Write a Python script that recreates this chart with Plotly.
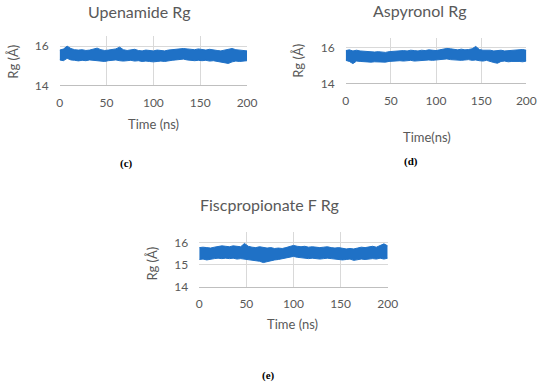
import plotly.graph_objects as go

W, H = 550, 391

time_ns = list(range(0, 201, 4))

upenamide_upper = [15.80, 15.85, 16.00, 15.88, 15.82, 15.80, 15.82, 15.78, 15.80, 15.84,
                   15.90, 15.82, 15.78, 15.80, 15.82, 15.86, 15.95, 15.82, 15.78, 15.80,
                   15.84, 15.78, 15.76, 15.80, 15.78, 15.76, 15.80, 15.78, 15.76, 15.80,
                   15.82, 15.84, 15.86, 15.88, 15.86, 15.84, 15.82, 15.86, 15.82, 15.80,
                   15.84, 15.80, 15.78, 15.76, 15.80, 15.84, 15.88, 15.82, 15.80, 15.78, 15.76]
upenamide_lower = [15.30, 15.26, 15.38, 15.30, 15.28, 15.25, 15.28, 15.26, 15.30, 15.28,
                   15.26, 15.24, 15.22, 15.26, 15.28, 15.30, 15.26, 15.24, 15.26, 15.28,
                   15.24, 15.26, 15.22, 15.24, 15.22, 15.20, 15.22, 15.24, 15.22, 15.26,
                   15.28, 15.30, 15.32, 15.34, 15.30, 15.28, 15.26, 15.28, 15.26, 15.28,
                   15.24, 15.26, 15.22, 15.20, 15.14, 15.12, 15.20, 15.24, 15.22, 15.24, 15.26]

aspyronol_upper = [15.82, 15.86, 15.80, 15.84, 15.80, 15.78, 15.76, 15.78, 15.74, 15.76,
                   15.74, 15.72, 15.76, 15.78, 15.80, 15.78, 15.82, 15.80, 15.84, 15.82,
                   15.80, 15.84, 15.82, 15.86, 15.84, 15.82, 15.86, 15.90, 15.94, 15.92,
                   15.88, 15.86, 15.90, 15.86, 15.88, 15.92, 16.05, 15.88, 15.84, 15.86,
                   15.84, 15.80, 15.82, 15.84, 15.80, 15.82, 15.84, 15.86, 15.90, 15.88, 15.84]
aspyronol_lower = [15.28, 15.22, 15.10, 15.24, 15.22, 15.20, 15.22, 15.18, 15.20, 15.18,
                   15.20, 15.18, 15.22, 15.24, 15.22, 15.26, 15.24, 15.26, 15.28, 15.24,
                   15.26, 15.28, 15.26, 15.30, 15.28, 15.30, 15.32, 15.34, 15.36, 15.32,
                   15.30, 15.32, 15.28, 15.30, 15.32, 15.28, 15.30, 15.26, 15.24, 15.28,
                   15.20, 15.16, 15.12, 15.22, 15.24, 15.20, 15.22, 15.24, 15.22, 15.20, 15.24]

fisc_upper = [15.78, 15.80, 15.78, 15.76, 15.80, 15.84, 15.86, 15.84, 15.82, 15.86,
              15.84, 15.82, 15.97, 15.84, 15.80, 15.78, 15.82, 15.80, 15.76, 15.78,
              15.74, 15.76, 15.74, 15.78, 15.84, 15.88, 15.84, 15.82, 15.84, 15.80,
              15.82, 15.80, 15.78, 15.80, 15.82, 15.78, 15.76, 15.78, 15.74, 15.72,
              15.74, 15.72, 15.76, 15.80, 15.78, 15.82, 15.84, 15.80, 15.86, 15.95, 15.86]
fisc_lower = [15.24, 15.26, 15.22, 15.26, 15.28, 15.30, 15.28, 15.30, 15.28, 15.30,
              15.26, 15.28, 15.26, 15.24, 15.22, 15.20, 15.16, 15.10, 15.14, 15.20,
              15.22, 15.24, 15.28, 15.32, 15.36, 15.38, 15.34, 15.32, 15.30, 15.28,
              15.30, 15.28, 15.26, 15.28, 15.30, 15.28, 15.26, 15.24, 15.22, 15.24,
              15.26, 15.20, 15.24, 15.26, 15.24, 15.26, 15.28, 15.26, 15.30, 15.26, 15.30]

x_ticks = [0, 50, 100, 150, 200]
y_ticks_two = [14, 16]
y_ticks_three = [14, 15, 16]

BLUE = "#1f71c6"
GRAY_TXT = "#595959"
GRID = "#d9d9d9"
FONT = "Lato, Open Sans, sans-serif"


def px_x(p):
    return p / W


def px_y(p):
    return 1 - p / H


panels = [
    dict(up=upenamide_upper, lo=upenamide_lower, x0=58, x1=250, top=37, bot=87, yt=y_ticks_two,
         title="Upenamide Rg", tpos=(140, 12), xt="Time (ns)", xtpos=(154, 126),
         lab="(c)", lpos=(127, 166), ypos=(10, 63)),
    dict(up=aspyronol_upper, lo=aspyronol_lower, x0=351, x1=536, top=39, bot=85, yt=y_ticks_two,
         title="Aspyronol Rg", tpos=(427, 11), xt="Time(ns)", xtpos=(434, 140),
         lab="(d)", lpos=(418, 164), ypos=(302, 62)),
    dict(up=fisc_upper, lo=fisc_lower, x0=201, x1=394, top=236, bot=292, yt=y_ticks_three,
         title="Fiscpropionate F Rg", tpos=(273, 208), xt="Time (ns)", xtpos=(297, 330),
         lab="(e)", lpos=(272, 382), ypos=(153, 268)),
]

fig = go.Figure()
annotations = []
layout = dict(
    width=W, height=H, margin=dict(l=0, r=0, t=0, b=0),
    paper_bgcolor="white", plot_bgcolor="white", showlegend=False,
)

for i, p in enumerate(panels, start=1):
    xa = "x" if i == 1 else f"x{i}"
    ya = "y" if i == 1 else f"y{i}"
    fig.add_trace(go.Scatter(x=time_ns, y=p["lo"], mode="lines",
                             line=dict(color=BLUE, width=1), xaxis=xa, yaxis=ya,
                             hoverinfo="skip"))
    fig.add_trace(go.Scatter(x=time_ns, y=p["up"], mode="lines", fill="tonexty",
                             fillcolor=BLUE, line=dict(color=BLUE, width=1),
                             xaxis=xa, yaxis=ya, hoverinfo="skip"))
    xkey = "xaxis" if i == 1 else f"xaxis{i}"
    ykey = "yaxis" if i == 1 else f"yaxis{i}"
    layout[xkey] = dict(
        domain=[px_x(p["x0"]), px_x(p["x1"])], anchor=ya, range=[0, 200],
        tickvals=x_ticks, showgrid=True, gridcolor=GRID, gridwidth=1,
        zeroline=False, showline=True, linecolor="#bfbfbf", linewidth=1,
        ticks="", ticklabelstandoff=6,
        tickfont=dict(family=FONT, size=12, color=GRAY_TXT),
    )
    layout[ykey] = dict(
        domain=[px_y(p["bot"]), px_y(p["top"])], anchor=xa, range=[14, 16.5],
        tickvals=p["yt"], showgrid=True, gridcolor=GRID, gridwidth=1,
        zeroline=False, showline=False, ticks="", ticklabelstandoff=10,
        tickfont=dict(family=FONT, size=12, color=GRAY_TXT),
    )
    annotations.append(dict(text=p["title"], x=px_x(p["tpos"][0]), y=px_y(p["tpos"][1]),
                            xref="paper", yref="paper", showarrow=False,
                            xanchor="center", yanchor="middle",
                            font=dict(family=FONT, size=16, color=GRAY_TXT)))
    annotations.append(dict(text=p["xt"], x=px_x(p["xtpos"][0]), y=px_y(p["xtpos"][1]),
                            xref="paper", yref="paper", showarrow=False,
                            xanchor="center", yanchor="middle",
                            font=dict(family=FONT, size=13, color=GRAY_TXT)))
    annotations.append(dict(text="Rg (Å)", x=px_x(p["ypos"][0]), y=px_y(p["ypos"][1]),
                            xref="paper", yref="paper", showarrow=False, textangle=-90,
                            xanchor="center", yanchor="middle",
                            font=dict(family=FONT, size=13, color=GRAY_TXT)))
    annotations.append(dict(text="<b>" + p["lab"] + "</b>", x=px_x(p["lpos"][0]),
                            y=px_y(p["lpos"][1]), xref="paper", yref="paper",
                            showarrow=False, xanchor="center", yanchor="middle",
                            font=dict(family="Liberation Serif, serif", size=11, color="black")))

layout["annotations"] = annotations
fig.update_layout(**layout)
# remove the browser's default 8px body margin so the figure sits at the window origin
fig.write_html("out.html", config={"displayModeBar": False},
               post_script="document.body.style.margin='0';")
